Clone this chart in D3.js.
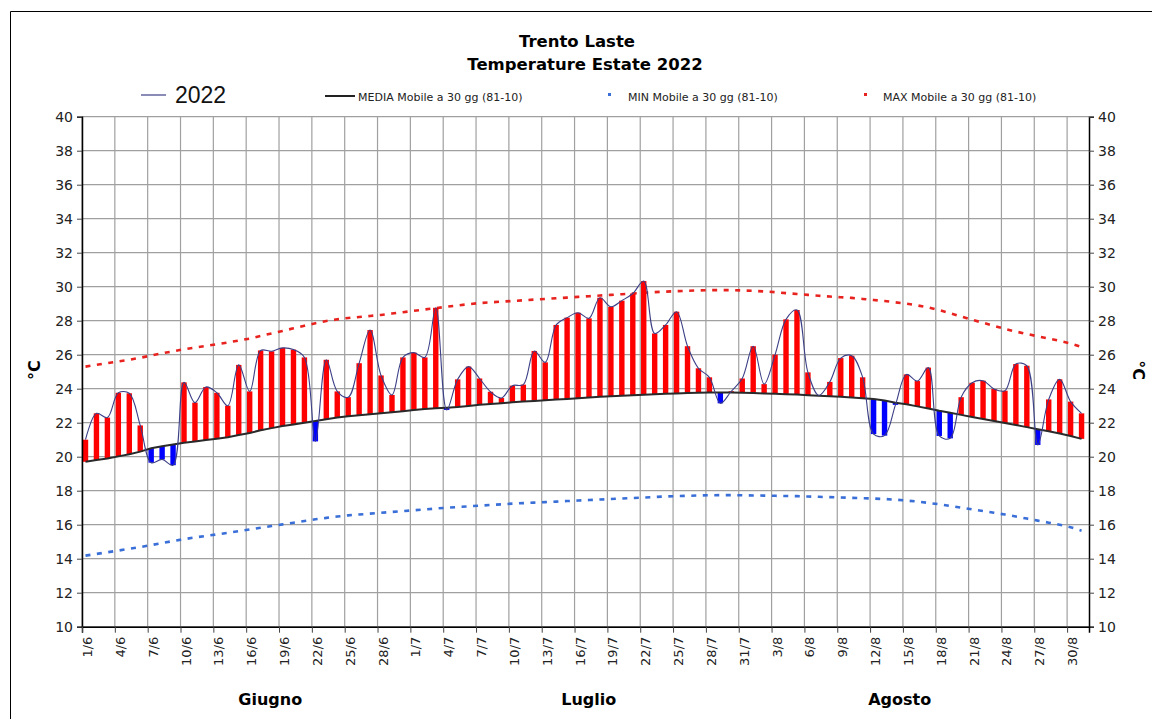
<!DOCTYPE html>
<html><head><meta charset="utf-8">
<script src="https://cdn.jsdelivr.net/npm/d3@7/dist/d3.min.js"></script>
<style>body{margin:0;background:#fff}svg{display:block}</style>
</head><body><svg id="c" width="1152" height="719"></svg>
<script>
// daily mean temperature 2022 (1 Jun .. 31 Aug)
const temp2022 = [21.0,22.55,22.3,23.76,23.73,21.84,19.65,19.84,19.5,24.37,23.18,24.1,23.76,23.0,25.4,23.84,26.25,26.2,26.4,26.3,25.84,20.9,25.7,23.84,23.5,25.5,27.45,24.78,23.63,25.84,
26.12,25.84,28.76,22.75,24.55,25.3,24.6,23.82,23.45,24.18,24.24,26.22,25.55,27.75,28.18,28.47,28.14,29.35,28.82,29.18,29.6,30.33,27.25,27.75,28.53,26.5,25.2,24.67,23.14,23.85,24.6,
26.5,24.27,26.0,28.08,28.63,24.96,23.6,24.4,25.8,25.94,24.67,21.33,21.24,23.05,24.84,24.45,25.24,21.22,21.08,23.5,24.35,24.47,23.98,23.88,25.45,25.35,20.69,23.37,24.55,23.24,22.55];
// 30-day moving climatology 1981-2010
const mediaMobile = [19.70,19.80,19.90,20.02,20.15,20.30,20.50,20.62,20.72,20.82,20.90,20.98,21.06,21.15,21.28,21.40,21.55,21.68,21.80,21.90,22.00,22.10,22.20,22.30,22.38,22.44,22.50,22.56,22.62,22.68,
22.74,22.80,22.85,22.88,22.92,22.98,23.05,23.10,23.15,23.20,23.24,23.28,23.32,23.36,23.40,23.44,23.48,23.52,23.55,23.58,23.62,23.65,23.67,23.70,23.72,23.74,23.76,23.78,23.78,23.78,23.76,
23.74,23.72,23.70,23.68,23.66,23.62,23.58,23.55,23.52,23.48,23.44,23.40,23.30,23.18,23.08,22.96,22.84,22.70,22.58,22.46,22.34,22.22,22.10,21.98,21.86,21.74,21.62,21.50,21.36,21.22,21.05];
const minMobile = [14.18,14.28,14.38,14.48,14.58,14.68,14.80,14.92,15.04,15.15,15.25,15.34,15.43,15.52,15.62,15.72,15.82,15.92,16.02,16.12,16.22,16.32,16.40,16.48,16.55,16.60,16.65,16.70,16.75,16.80,
16.85,16.90,16.95,17.00,17.04,17.08,17.12,17.16,17.20,17.24,17.27,17.30,17.33,17.36,17.39,17.42,17.45,17.48,17.51,17.54,17.57,17.60,17.63,17.66,17.68,17.70,17.72,17.73,17.74,17.74,17.73,
17.72,17.71,17.70,17.69,17.68,17.66,17.64,17.62,17.60,17.58,17.56,17.54,17.51,17.47,17.42,17.36,17.28,17.20,17.10,17.00,16.90,16.80,16.70,16.60,16.48,16.36,16.24,16.12,16.00,15.85,15.65];
const maxMobile = [25.30,25.40,25.50,25.60,25.70,25.82,25.95,26.08,26.20,26.32,26.42,26.52,26.62,26.72,26.83,26.95,27.10,27.25,27.40,27.55,27.70,27.85,27.98,28.08,28.16,28.22,28.28,28.34,28.42,28.50,
28.58,28.66,28.74,28.82,28.90,28.97,29.04,29.08,29.12,29.16,29.20,29.24,29.28,29.32,29.36,29.40,29.44,29.48,29.52,29.56,29.60,29.64,29.68,29.71,29.74,29.76,29.78,29.80,29.80,29.80,29.78,
29.76,29.72,29.68,29.62,29.57,29.52,29.47,29.42,29.38,29.34,29.28,29.22,29.16,29.08,29.00,28.90,28.78,28.62,28.44,28.25,28.05,27.88,27.70,27.52,27.36,27.22,27.08,26.95,26.82,26.66,26.45];
const tickLabels = ["1/6","4/6","7/6","10/6","13/6","16/6","19/6","22/6","25/6","28/6","1/7","4/7","7/7","10/7","13/7","16/7","19/7","22/7","25/7","28/7","31/7","3/8","6/8","9/8","12/8","15/8","18/8","21/8","24/8","27/8","30/8"];
const months = ["Giugno","Luglio","Agosto"];
const monthCenters = [17.2, 46.3, 74.7]; // day index centers
const yTicks = [10,12,14,16,18,20,22,24,26,28,30,32,34,36,38,40];

const svg = d3.select("#c");
const L=82, R=1089, T=116.7, B=626.7;
const nDays = temp2022.length;
const x = d3.scaleLinear().domain([0, nDays]).range([L, R]);
const y = d3.scaleLinear().domain([10, 40]).range([B, T]);
const px = i => x(i + 0.32);
const font = "DejaVu Sans, Verdana, sans-serif";

// frame
svg.append("path").attr("d","M10.5,719 V11.5 H1152").attr("fill","none").attr("stroke","#000").attr("stroke-width",1);

// grid
const g = svg.append("g");
g.selectAll("line.h").data(yTicks).join("line")
  .attr("x1",L).attr("x2",R).attr("y1",d=>y(d)).attr("y2",d=>y(d))
  .attr("stroke","#a0a0a0").attr("stroke-width",1.2);
const xTickIdx = tickLabels.map((_,k)=>k*3);
g.selectAll("line.v").data(xTickIdx).join("line")
  .attr("x1",d=>x(d)).attr("x2",d=>x(d)).attr("y1",T).attr("y2",B)
  .attr("stroke","#a0a0a0").attr("stroke-width",1.2);

// dashed climatology lines
const line = arr => d3.line().x((d,i)=>px(i)).y(d=>y(d))(arr);
svg.append("path").attr("d",line(maxMobile)).attr("fill","none").attr("stroke","#e8231f").attr("stroke-width",2.6).attr("stroke-dasharray","5,6.5");
svg.append("path").attr("d",line(minMobile)).attr("fill","none").attr("stroke","#3a6fd8").attr("stroke-width",2.6).attr("stroke-dasharray","5,6.5");

// anomaly bars
svg.append("g").selectAll("rect").data(temp2022).join("rect")
  .attr("x",(d,i)=>px(i)-2.7).attr("width",5.4)
  .attr("y",(d,i)=>y(Math.max(d,mediaMobile[i])))
  .attr("height",(d,i)=>Math.abs(y(d)-y(mediaMobile[i])))
  .attr("fill",(d,i)=> d>=mediaMobile[i] ? "#ff0000" : "#0000ff");

// mean line
svg.append("path").attr("d",line(mediaMobile)).attr("fill","none").attr("stroke","#2a2a2a").attr("stroke-width",2);

// 2022 smoothed line
svg.append("path").attr("d",d3.line().x((d,i)=>px(i)).y(d=>y(d)).curve(d3.curveCatmullRom.alpha(0.5))(temp2022))
  .attr("fill","none").attr("stroke","#3b3f86").attr("stroke-width",1.1);

// axes
const axL = svg.append("g").attr("transform",`translate(${L},0)`).call(d3.axisLeft(y).tickValues(yTicks).tickSize(5).tickPadding(4));
const axR = svg.append("g").attr("transform",`translate(${R},0)`).call(d3.axisRight(y).tickValues(yTicks).tickSize(5).tickPadding(4));
[axL,axR].forEach(a=>{a.select(".domain").attr("stroke","#000").attr("stroke-width",1.5);
  a.selectAll("text").attr("font-family",font).attr("font-size",14).attr("fill","#222");
  a.selectAll("line").attr("stroke","#444");});
const axB = svg.append("g").attr("transform",`translate(0,${B})`)
  .call(d3.axisBottom(x).tickValues(xTickIdx).tickSize(6).tickFormat(""));
axB.select(".domain").attr("stroke","#000").attr("stroke-width",1.5);
axB.selectAll("line").attr("stroke","#444");

svg.append("g").selectAll("text").data(tickLabels).join("text")
  .attr("transform",(d,k)=>`translate(${x(k*3+0.5)},${B+10}) rotate(-90)`)
  .attr("text-anchor","end").attr("dy","0.35em")
  .attr("font-family",font).attr("font-size",13).attr("fill","#222").text(d=>d);

svg.append("g").selectAll("text").data(months).join("text")
  .attr("x",(d,k)=>x(monthCenters[k])).attr("y",705)
  .attr("text-anchor","middle").attr("font-family",font).attr("font-weight","bold").attr("font-size",16).text(d=>d);

// axis titles
svg.append("text").attr("transform","translate(40,370) rotate(-90)").attr("text-anchor","middle")
  .attr("font-family",font).attr("font-weight","bold").attr("font-size",16).text("°C");
svg.append("text").attr("transform","translate(1133,370) rotate(90)").attr("text-anchor","middle")
  .attr("font-family",font).attr("font-weight","bold").attr("font-size",16).text("°C");

// title
svg.append("text").attr("x",577).attr("y",47).attr("text-anchor","middle").attr("font-family",font)
  .attr("font-weight","bold").attr("font-size",16.5).text("Trento Laste");
svg.append("text").attr("x",585).attr("y",70).attr("text-anchor","middle").attr("font-family",font)
  .attr("font-weight","bold").attr("font-size",16.5).text("Temperature Estate 2022");

// legend
const lg = svg.append("g");
lg.append("line").attr("x1",141).attr("x2",166).attr("y1",95).attr("y2",95).attr("stroke","#3b3f86").attr("stroke-width",1.2);
lg.append("text").attr("x",175).attr("y",103).attr("font-family","Liberation Sans Narrow, Arial Narrow, Liberation Sans, sans-serif").attr("font-size",23).attr("fill","#111").text("2022");
lg.append("line").attr("x1",325).attr("x2",355).attr("y1",96).attr("y2",96).attr("stroke","#222").attr("stroke-width",2);
lg.append("text").attr("x",358).attr("y",101).attr("font-family",font).attr("font-size",11).attr("fill","#222").text("MEDIA Mobile a 30 gg (81-10)");
lg.append("rect").attr("x",608).attr("y",93).attr("width",3).attr("height",3).attr("fill","#3a6fd8");
lg.append("text").attr("x",628).attr("y",101).attr("font-family",font).attr("font-size",11).attr("fill","#222").text("MIN Mobile a 30 gg (81-10)");
lg.append("rect").attr("x",864).attr("y",93).attr("width",3).attr("height",3).attr("fill","#e8231f");
lg.append("text").attr("x",883).attr("y",101).attr("font-family",font).attr("font-size",11).attr("fill","#222").text("MAX Mobile a 30 gg (81-10)");
</script></body></html>
